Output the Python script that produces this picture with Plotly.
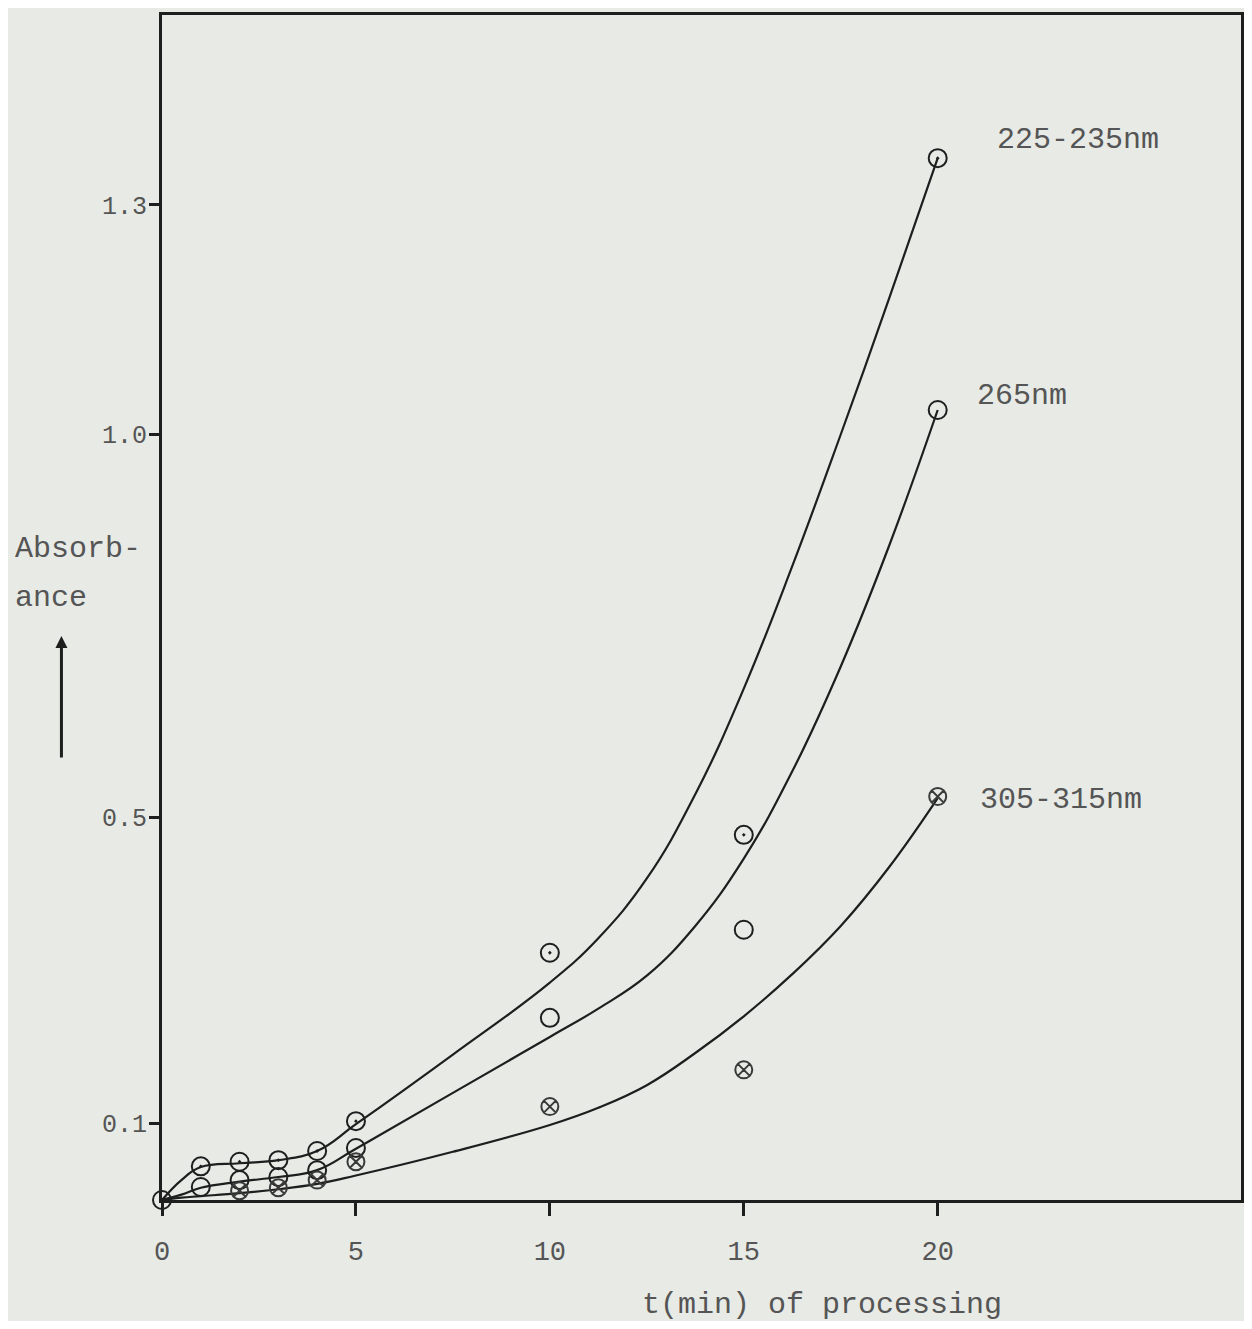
import plotly.graph_objects as go

# ---- data ----
t_obs = [1, 2, 3, 4, 5, 10, 15, 20]
a225_obs = [0.044, 0.050, 0.052, 0.064, 0.103, 0.323, 0.477, 1.361]
a265_obs = [0.017, 0.026, 0.030, 0.039, 0.068, 0.238, 0.353, 1.032]
t305_obs = [2, 3, 4, 5, 10, 15, 20]
a305_obs = [0.012, 0.016, 0.026, 0.050, 0.122, 0.170, 0.527]
origin_t = [0]
origin_a = [0]

# hand-drawn fitted curves
curve_t = [0, 0.5, 1, 2, 3, 4, 5, 7.5, 10, 11.25, 12.5, 13.75, 15, 16.25, 17.5, 18.75, 20]
curve225 = [0, 0.026, 0.043, 0.048, 0.052, 0.064, 0.099, 0.190, 0.284, 0.342, 0.420,
            0.530, 0.668, 0.828, 1.000, 1.178, 1.361]
curve265 = [0, 0.007, 0.016, 0.024, 0.030, 0.039, 0.067, 0.140, 0.213, 0.250, 0.293,
            0.358, 0.446, 0.560, 0.697, 0.855, 1.032]
curve305 = [0, 0.003, 0.005, 0.009, 0.014, 0.021, 0.032, 0.063, 0.098, 0.1205, 0.150,
            0.192, 0.240, 0.295, 0.358, 0.435, 0.525]

x_ticks = [0, 5, 10, 15, 20]
x_ticktext = ["0", "5", "10", "15", "20"]
y_ticks = [0.1, 0.5, 1.0, 1.3]
y_ticktext = ["0.1", "0.5", "1.0", "1.3"]

series_labels = ["225-235nm", "265nm", "305-315nm"]
label_x = [21.47, 20.95, 21.03]
label_y = [1.385, 1.050, 0.523]

INK = "#1e1e1e"
TEXT = "#555555"
PAPER = "#e7eae5"
FONT = "Liberation Mono, Courier New, monospace"

fig = go.Figure()

line_style = dict(color=INK, width=2.2, shape="spline", smoothing=1.2)
for cy in (curve225, curve265, curve305):
    fig.add_trace(go.Scatter(x=curve_t, y=cy, mode="lines", line=line_style,
                             hoverinfo="skip", showlegend=False))

mk = dict(size=18, color=INK, line=dict(color=INK, width=2))
fig.add_trace(go.Scatter(x=t_obs, y=a225_obs, mode="markers",
                         marker=dict(symbol="circle-open-dot", **mk), showlegend=False,
                         cliponaxis=False))
fig.add_trace(go.Scatter(x=t_obs, y=a265_obs, mode="markers",
                         marker=dict(symbol="circle-open", **mk), showlegend=False,
                         cliponaxis=False))
fig.add_trace(go.Scatter(x=t305_obs, y=a305_obs, mode="markers",
                         marker=dict(symbol="circle-x-open", size=17, color="#3a3a3a",
                                     line=dict(color="#3a3a3a", width=2)),
                         showlegend=False, cliponaxis=False))
fig.add_trace(go.Scatter(x=origin_t, y=origin_a, mode="markers",
                         marker=dict(symbol="circle-open", **mk), showlegend=False,
                         cliponaxis=False))

# series labels
for txt, lx, ly in zip(series_labels, label_x, label_y):
    fig.add_annotation(x=lx, y=ly, text=txt, showarrow=False, xanchor="left",
                       yanchor="middle", font=dict(family=FONT, size=30, color=TEXT))

# axis titles
fig.add_annotation(xref="paper", yref="paper", x=0.4428, y=-0.0885, text="t(min) of processing",
                   showarrow=False, xanchor="left", yanchor="middle",
                   font=dict(family=FONT, size=30, color=TEXT))
fig.add_annotation(xref="paper", yref="paper", x=-0.1384, y=0.5493, text="Absorb-",
                   showarrow=False, xanchor="left", yanchor="middle",
                   font=dict(family=FONT, size=30, color=TEXT))
fig.add_annotation(xref="paper", yref="paper", x=-0.1384, y=0.508, text="ance",
                   showarrow=False, xanchor="left", yanchor="middle",
                   font=dict(family=FONT, size=30, color=TEXT))
# vertical arrow
fig.add_annotation(xref="paper", yref="paper", x=-0.0932, y=0.476,
                   ax=0, ay=123, axref="pixel", ayref="pixel", text="",
                   showarrow=True, arrowhead=2, arrowsize=0.8, arrowwidth=3,
                   arrowcolor=INK)

axis_common = dict(showgrid=False, zeroline=False, showline=True, linecolor=INK,
                   mirror=True, ticks="outside", tickcolor=INK, tickwidth=3)

fig.update_layout(
    width=1236, height=1313,
    margin=dict(l=154, r=0, t=7, b=121),
    paper_bgcolor=PAPER, plot_bgcolor=PAPER,
    xaxis=dict(range=[0, 27.82], tickvals=x_ticks, ticktext=x_ticktext,
               ticklen=13, linewidth=2.5, ticklabelstandoff=12,
               tickfont=dict(family=FONT, size=27, color=TEXT), **axis_common),
    yaxis=dict(range=[0, 1.548], tickvals=y_ticks, ticktext=y_ticktext,
               ticklen=10, linewidth=3, ticklabelstandoff=-3,
               tickfont=dict(family=FONT, size=25, color=TEXT), **axis_common),
)

fig.write_html("out.html")
